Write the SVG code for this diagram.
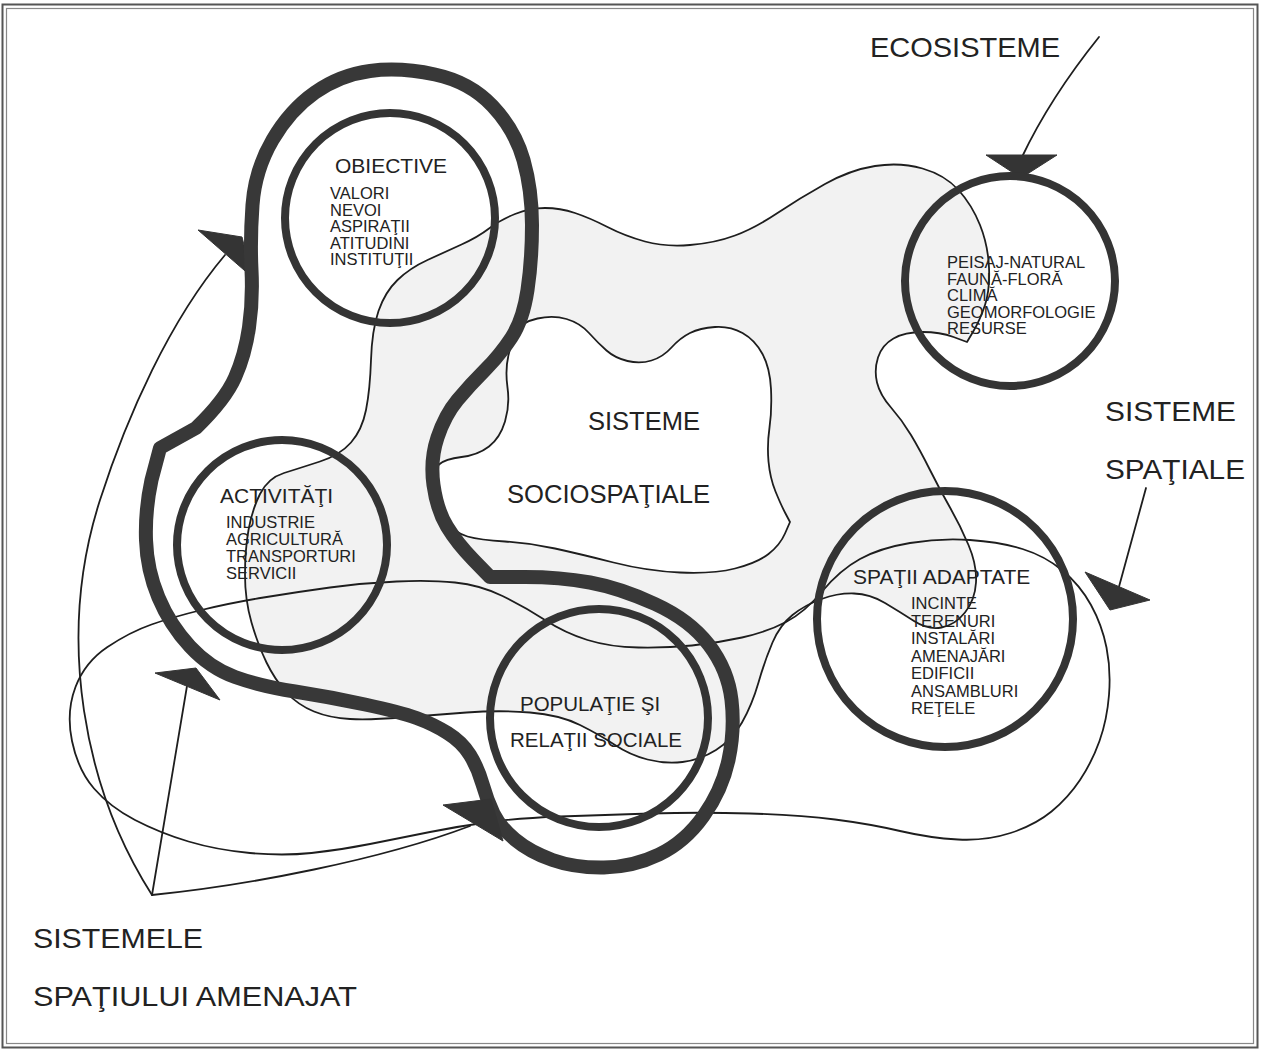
<svg xmlns="http://www.w3.org/2000/svg" width="1263" height="1056" viewBox="0 0 1263 1056">
  <style>
    .thin { fill: none; stroke: #1e1e1e; stroke-width: 1.8; stroke-linecap: round; stroke-linejoin: round; }
    .ring { fill: none; stroke: #343434; stroke-width: 8; }
    .band { fill: none; stroke: #383838; stroke-width: 14; stroke-linejoin: round; }
    .head { fill: #343434; stroke: #343434; stroke-width: 1; stroke-linejoin: round; }
    .shade { fill: #f2f2f2; }
    .core { fill: #fff; }
    text { font-family: "Liberation Sans", Arial, sans-serif; fill: #222; }
    .title { font-size: 21px; }
    .item { font-size: 16.5px; }
    .big { font-size: 28px; }
    .mid { font-size: 25px; }
  </style>

  <rect x="0" y="0" width="1263" height="1056" fill="#fff"/>

  <!-- page frame -->
  <g id="frame">
    <rect x="2.5" y="4.5" width="1255" height="1043" fill="none" stroke="#555" stroke-width="2"/>
    <rect x="6.5" y="8.5" width="1247" height="1035" fill="none" stroke="#888" stroke-width="1.2"/>
  </g>

  <!-- socio-spatial systems: shaded ring with a clear core -->
  <g id="sociospatial">
    <path class="thin shade" d="M371,360 Q372,330 378.5,311 Q385,292 397.5,280 Q410,268 427.5,260 Q445,252 461.5,244.5 Q478,237 489,228.5 Q500,220 515,214 Q530,208 545,208 Q560,208 575,213 Q590,218 607.5,227 Q625,236 645,241.5 Q665,247 690,245 Q715,243 735,235.5 Q755,228 777.5,213 Q800,198 825,184 Q850,170 875,166 Q900,162 922.5,168.5 Q945,175 958.5,190 Q972,205 980,225 Q988,245 989,267.5 Q990,290 985,305 Q980,320 973.5,331 L967,342 L953.5,337 Q940,332 922.5,332 Q905,332 893.5,338.5 Q882,345 878,357.5 Q874,370 877,382.5 Q880,395 891,407.5 Q902,420 911,435 Q920,450 930,470 Q940,490 950,507.5 Q960,525 968.5,545 Q977,565 976,582.5 Q975,600 965,612.5 Q955,625 941.5,627.5 Q928,630 914,621 Q900,612 885,603 Q870,594 854,593.5 Q838,593 821.5,599 Q805,605 792.5,615 Q780,625 772.5,642.5 Q765,660 758.5,682.5 Q752,705 742,722.5 Q732,740 716,750 Q700,760 682.5,762 Q665,764 647.5,759.5 Q630,755 615,745 Q600,735 580,725 Q560,715 530,712.5 Q500,710 466.5,712.5 Q433,715 401.5,717.5 Q370,720 350,719 Q330,718 314,711.5 Q298,705 286.5,692.5 Q275,680 266.5,662.5 Q258,645 251.5,622.5 Q245,600 245,575 Q245,550 248.5,530 Q252,510 260,494 Q268,478 284,473 Q300,468 320,461.5 Q340,455 351,442.5 Q362,430 366,410 Q370,390 371,360 Z"/>
    <path class="thin core" d="M517,331 Q522,322 537.5,318.5 Q553,315 566.5,319 Q580,323 589,333 Q598,343 606.5,350.5 Q615,358 627.5,361 Q640,364 651.5,360.5 Q663,357 671.5,347.5 Q680,338 690,333 Q700,328 715,327 Q730,326 742.5,333 Q755,340 762.5,354 Q770,368 771,389 Q772,410 769.5,427.5 Q767,445 768.5,461.5 Q770,478 775.5,491.5 Q781,505 785.5,513.5 L790,522 L785,533.5 Q780,545 768.5,554 Q757,563 735,568.5 Q713,574 680,572.5 Q647,571 613.5,562.5 Q580,554 555,548.5 Q530,543 505,541.5 Q480,540 467.5,536.5 Q455,533 446.5,521.5 Q438,510 435.5,490 Q433,470 439,464.5 Q445,459 461.5,457 Q478,455 489,446.5 Q500,438 505,421.5 Q510,405 507.5,387.5 Q505,370 508.5,355 Q512,340 517,331 Z"/>
    <text class="mid" x="588" y="430" textLength="112" lengthAdjust="spacingAndGlyphs">SISTEME</text>
    <text class="mid" x="507" y="503" textLength="203" lengthAdjust="spacingAndGlyphs">SOCIOSPAŢIALE</text>
  </g>

  <!-- connectors: outer loop, pointer lines and arrowheads -->
  <g id="connectors">
    <path class="thin" d="M72,741 Q66,712 75.5,687 Q85,662 107.5,647 Q130,632 151.5,624.5 Q173,617 201.5,610 Q230,603 263.5,597.5 Q297,592 330,587.5 Q363,583 396.5,581.5 Q430,580 455,582.5 Q480,585 502.5,596 Q525,607 545,620 Q565,633 587.5,640 Q610,647 638.5,647.5 Q667,648 692,645.5 Q717,643 742,637.5 Q767,632 786,622 Q805,612 822.5,591 Q840,570 860,559 Q880,548 910,543 Q940,538 970,540 Q1000,542 1022.5,549 Q1045,556 1062.5,570.5 Q1080,585 1091,605 Q1102,625 1106.5,647.5 Q1111,670 1109,695 Q1107,720 1099.5,741 Q1092,762 1080,780 Q1068,798 1051.5,811.5 Q1035,825 1010.5,833 Q986,841 958,839.5 Q930,838 900,831 Q870,824 835,819.5 Q800,815 750,813.5 Q700,812 650,813.5 Q600,815 560,816.5 Q520,818 490,822 Q460,826 430,832 Q400,838 370,844 Q340,850 311.5,853 Q283,856 250,853 Q217,850 188.5,841.5 Q160,833 135,820 Q110,807 94,788.5 Q78,770 72,741 Z"/>
    <path class="thin" d="M1099,37 Q1050,98 1022,157"/>
    <path class="thin" d="M1146,488 L1117,594"/>
    <path class="thin" d="M152,895 L187,686"/>
    <path class="thin" d="M152,895 C85,790 55,640 100,500 C127,416 170,320 225,255"/>
    <path class="thin" d="M152,895 C250,885 380,860 470,826"/>
    <polygon class="head" points="986,155 1057,155 1021,178"/>
    <polygon class="head" points="1085,572 1150,600 1110,610"/>
    <polygon class="head" points="198,230 242,237 252,277"/>
    <polygon class="head" points="155,673 196,668 220,700"/>
  </g>

  <!-- spatial-planning cycle band -->
  <g id="cycle">
    <path class="band" d="M370,71 Q400,67 435,74.5 Q470,82 492.5,106 Q515,130 523.5,160 Q532,190 532,225 Q532,260 527.5,290 Q523,320 511.5,337.5 Q500,355 485,370 Q470,385 457.5,400 Q445,415 437.5,437.5 Q430,460 433.5,485 Q437,510 447,526.5 Q457,543 473.5,560 L490,577 L525,577 Q560,577 590,582.5 Q620,588 655,604 Q690,620 709,645 Q728,670 731.5,700 Q735,730 728.5,760 Q722,790 703.5,816 Q685,842 659,854.5 Q633,867 604,867.5 Q575,868 552.5,860 Q530,852 515,839.5 Q500,827 493.5,813.5 Q487,800 482.5,784 Q478,768 470,755 Q462,742 447.5,733 Q433,724 416.5,718 Q400,712 365,704.5 Q330,697 295,691.5 Q260,686 235,677 Q210,668 190,646.5 Q170,625 158.5,597.5 Q147,570 146,540 Q145,510 151.5,480 L160,448 L196,428 Q225,400 235,377.5 Q245,355 249,327.5 Q253,300 251.5,270 Q250,240 252.5,205 Q255,170 272.5,140 Q290,110 315,92.5 Q340,75 370,71 Z"/>
    <polygon class="head" points="443,805 491,799 503,841"/>
  </g>

  <g id="objective">
    <circle class="ring" cx="390" cy="218" r="105"/>
    <text class="title" x="335" y="173">OBIECTIVE</text>
    <text class="item" x="330" y="199">VALORI</text>
    <text class="item" x="330" y="215.5">NEVOI</text>
    <text class="item" x="330" y="232">ASPIRAŢII</text>
    <text class="item" x="330" y="248.5">ATITUDINI</text>
    <text class="item" x="330" y="265">INSTITUŢII</text>
  </g>

  <g id="activities">
    <circle class="ring" cx="282" cy="545" r="105"/>
    <text class="title" x="220" y="503">ACTIVITĂŢI</text>
    <text class="item" x="226" y="528">INDUSTRIE</text>
    <text class="item" x="226" y="545">AGRICULTURĂ</text>
    <text class="item" x="226" y="562">TRANSPORTURI</text>
    <text class="item" x="226" y="579">SERVICII</text>
  </g>

  <g id="population">
    <circle class="ring" cx="599" cy="718" r="109"/>
    <text class="title" x="520" y="711" style="font-size:20.5px">POPULAŢIE ŞI</text>
    <text class="title" x="510" y="747" style="font-size:20.5px">RELAŢII SOCIALE</text>
  </g>

  <g id="ecosystems">
    <circle class="ring" cx="1010" cy="281" r="105"/>
    <text class="item" x="947" y="268">PEISAJ-NATURAL</text>
    <text class="item" x="947" y="284.5">FAUNĂ-FLORĂ</text>
    <text class="item" x="947" y="301">CLIMĂ</text>
    <text class="item" x="947" y="317.5">GEOMORFOLOGIE</text>
    <text class="item" x="947" y="334">RESURSE</text>
  </g>

  <g id="adapted-spaces">
    <circle class="ring" cx="945" cy="619" r="128"/>
    <text class="title" x="853" y="584">SPAŢII ADAPTATE</text>
    <text class="item" x="911" y="609">INCINTE</text>
    <text class="item" x="911" y="626.5">TERENURI</text>
    <text class="item" x="911" y="644">INSTALĂRI</text>
    <text class="item" x="911" y="661.5">AMENAJĂRI</text>
    <text class="item" x="911" y="679">EDIFICII</text>
    <text class="item" x="911" y="696.5">ANSAMBLURI</text>
    <text class="item" x="911" y="714">REŢELE</text>
  </g>

  <!-- free labels -->
  <g id="labels">
    <text class="big" x="870" y="57" textLength="190" lengthAdjust="spacingAndGlyphs">ECOSISTEME</text>
    <text class="big" x="1105" y="421" textLength="131" lengthAdjust="spacingAndGlyphs">SISTEME</text>
    <text class="big" x="1105" y="479" textLength="140" lengthAdjust="spacingAndGlyphs">SPAŢIALE</text>
    <text class="big" x="33" y="948" textLength="170" lengthAdjust="spacingAndGlyphs">SISTEMELE</text>
    <text class="big" x="33" y="1006" textLength="324" lengthAdjust="spacingAndGlyphs">SPAŢIULUI AMENAJAT</text>
  </g>
</svg>
